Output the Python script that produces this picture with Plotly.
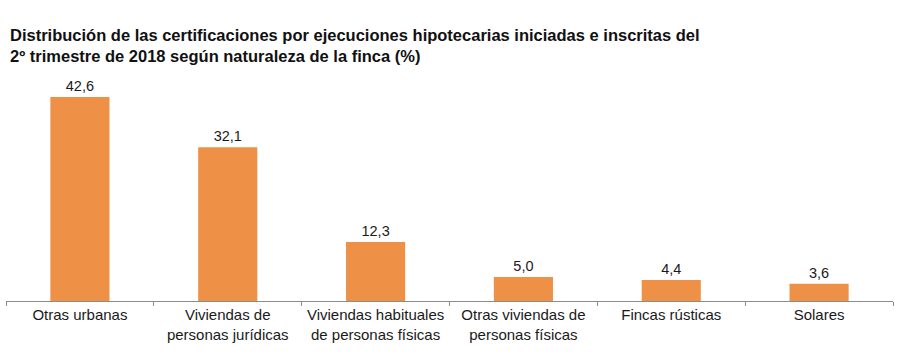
import plotly.graph_objects as go

categories = ["Otras urbanas", "Viviendas de<br>personas jurídicas", "Viviendas habituales<br>de personas físicas",
              "Otras viviendas de<br>personas físicas", "Fincas rústicas", "Solares"]
values = [42.6, 32.1, 12.3, 5.0, 4.4, 3.6]

title_text = "Distribución de las certificaciones por ejecuciones hipotecarias iniciadas e inscritas del<br>2º trimestre de 2018 según naturaleza de la finca (%)"

fig = go.Figure(go.Bar(
    x=categories, y=values,
    marker=dict(color="#EE9147", line=dict(width=0)),
    width=0.4,
    text=values, texttemplate="%{y:.1f}", textposition="outside",
    textfont=dict(family="Liberation Sans, Arial, sans-serif", size=14.5, color="#1a1a1a"),
    cliponaxis=False,
))

fig.update_layout(
    width=900, height=357,
    separators=",.",
    paper_bgcolor="white", plot_bgcolor="white",
    margin=dict(l=6, r=7, t=60, b=56, autoexpand=False),
    showlegend=False,
    title=dict(text=title_text, x=10/900, xanchor="left", xref="container",
               y=1-41/357, yanchor="top", yref="container", automargin=False,
               font=dict(family="Liberation Sans, Arial, sans-serif", size=16.5, color="#111", weight="bold")),
    xaxis=dict(type="category", showline=True, linecolor="#8c8c8c", linewidth=1, automargin=False,
               ticks="outside", tickson="boundaries", ticklen=4, tickcolor="#8c8c8c",
               tickfont=dict(family="Liberation Sans, Arial, sans-serif", size=15, color="#1a1a1a"),
               showgrid=False),
    yaxis=dict(range=[0, 50.3], visible=False, showgrid=False, zeroline=False, automargin=False),
)

fig.write_html("out.html", config={"displayModeBar": False},
               post_script="document.body.style.margin='0';")
